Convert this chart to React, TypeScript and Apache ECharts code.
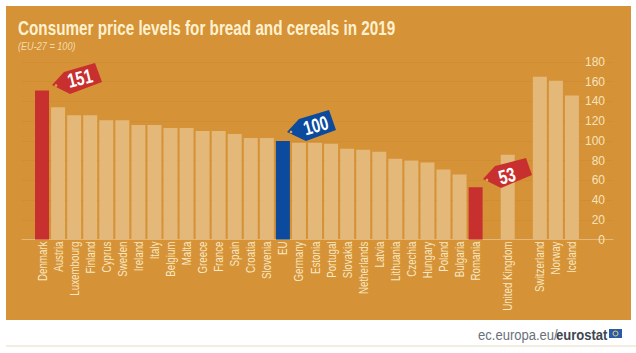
import React, { useEffect, useRef } from "react";
import * as echarts from "echarts";

const categories = ["Denmark","Austria","Luxembourg","Finland","Cyprus","Sweden","Ireland","Italy","Belgium","Malta","Greece","France","Spain","Croatia","Slovenia","EU","Germany","Estonia","Portugal","Slovakia","Netherlands","Latvia","Lithuania","Czechia","Hungary","Poland","Bulgaria","Romania"," ","United Kingdom","  ","Switzerland","Norway","Iceland"];
const values = [151,134,126,126,121,121,116,116,113,113,110,110,107,103,103,100,98,98,97,92,91,89,82,80,78,71,66,53,null,86,null,165,161,146];
const redBars = ["Denmark", "Romania"];
const blueBars = ["EU"];
const yTicks = [0,20,40,60,80,100,120,140,160,180];
const tags = [
  { label: "151", color: "#c8302f", hole: "#e9a14a", pts: [[52,85],[64,72],[95,63],[102,82],[70,94]], c: [80,78.5], hp: [56,85.5], rot: 14 },
  { label: "100", color: "#0b4a9c", hole: "#e9a14a", pts: [[287,132],[299,119],[329,110],[336,130],[306,141]], c: [316,125.5], hp: [291,132], rot: 16 },
  { label: "53", color: "#c8302f", hole: "#e9a14a", pts: [[483,179],[495,166],[526,158],[532,175],[501,188]], c: [507,176], hp: [487,180], rot: 15 },
];
const SANS = "'Liberation Sans', sans-serif";

export default function App() {
  const ref = useRef<HTMLDivElement>(null);
  useEffect(() => {
    document.body.style.margin = "0";
    const chart = echarts.init(ref.current!, undefined, { renderer: "svg" });
    const graphic: any[] = [
      { type: "rect", z: -10, shape: { x: 6, y: 6, width: 625, height: 314 }, style: { fill: "#d69236" } },
      { type: "line", z: -10, shape: { x1: 6, y1: 346, x2: 636, y2: 346 }, style: { stroke: "#e6d9c3", lineWidth: 1 } },
      { type: "text", z: 10, x: 18, y: 17, scaleX: 0.727, style: { text: "Consumer price levels for bread and cereals in 2019", fill: "#fdf1cf", font: `bold 21px ${SANS}` } },
      { type: "text", z: 10, x: 18, y: 41, scaleX: 0.83, style: { text: "(EU-27 = 100)", fill: "#f3dcae", font: `italic 11px ${SANS}` } },
      { type: "text", z: 10, x: 478, y: 327, scaleX: 0.87, style: { text: "ec.europa.eu/", fill: "#6a707a", font: `15px ${SANS}` } },
      { type: "text", z: 10, x: 556, y: 327, scaleX: 0.87, style: { text: "eurostat", fill: "#3f4650", font: `bold 15px ${SANS}` } },
      { type: "rect", z: 10, shape: { x: 609, y: 329, width: 13, height: 9 }, style: { fill: "#2a5aa8" } },
      { type: "ring", z: 11, shape: { cx: 615.5, cy: 333.5, r: 3, r0: 2 }, style: { fill: "#d9d27a" } },
    ];
    tags.forEach((t) => {
      graphic.push({ type: "polygon", z: 100, shape: { points: t.pts }, style: { fill: t.color } });
      graphic.push({ type: "circle", z: 101, shape: { cx: t.hp[0], cy: t.hp[1], r: 1.3 }, style: { fill: t.hole } });
      graphic.push({
        type: "text", z: 102, x: t.c[0], y: t.c[1], rotation: (t.rot * Math.PI) / 180, scaleX: 0.75,
        style: { text: t.label, fill: "#ffffff", font: `bold 20px ${SANS}`, textAlign: "center", textVerticalAlign: "middle" },
      });
    });
    chart.setOption({
      animation: false,
      backgroundColor: "#ffffff",
      graphic,
      grid: [
        { left: 34, top: 62, width: 546, height: 177.5 },
        { left: 22, top: 62, width: 591, height: 177.5 },
      ],
      xAxis: [
        {
          type: "category", gridIndex: 0, data: categories,
          axisLine: { show: false }, axisTick: { show: false }, axisLabel: { show: false },
        },
        {
          type: "value", gridIndex: 1, min: 0, max: 1,
          axisLine: { show: true, onZero: false, lineStyle: { color: "#e3b878", width: 1 } },
          axisTick: { show: false }, axisLabel: { show: false }, splitLine: { show: false },
        },
      ],
      yAxis: [
        { type: "value", gridIndex: 0, min: 0, max: 180, interval: 20, show: false },
        {
          type: "value", gridIndex: 1, min: 0, max: 180, interval: 20, position: "right",
          axisLine: { show: false }, axisTick: { show: false },
          axisLabel: { inside: true, margin: 8, color: "#f6e3ba", fontSize: 12, fontFamily: SANS,
            formatter: (v: number) => (yTicks.includes(v) ? String(v) : "") },
          splitLine: { show: true, lineStyle: { color: "#d08d33", width: 1 } },
        },
      ],
      series: [
        {
          type: "bar", xAxisIndex: 0, yAxisIndex: 0, barWidth: 14, z: 3,
          data: values.map((v, i) => ({
            value: v,
            itemStyle: { color: redBars.includes(categories[i]) ? "#c8302f" : blueBars.includes(categories[i]) ? "#0b4a9c" : "#e3b878" },
          })),
        },
        {
          type: "custom", xAxisIndex: 0, yAxisIndex: 0, z: 4, silent: true,
          data: categories.map((c, i) => [i, 0, c]),
          encode: { x: 0, y: 1 },
          renderItem: (params: any, api: any) => {
            const p = api.coord([api.value(0), 0]);
            return {
              type: "text", x: p[0], y: p[1] + 2, rotation: Math.PI / 2, scaleX: 0.75,
              style: { text: categories[params.dataIndex], fill: "#f8e8c4", font: `13px ${SANS}`, textAlign: "right", textVerticalAlign: "middle" },
            };
          },
        },
      ],
    });
    return () => chart.dispose();
  }, []);
  return <div ref={ref} style={{ width: 636, height: 353 }} />;
}
